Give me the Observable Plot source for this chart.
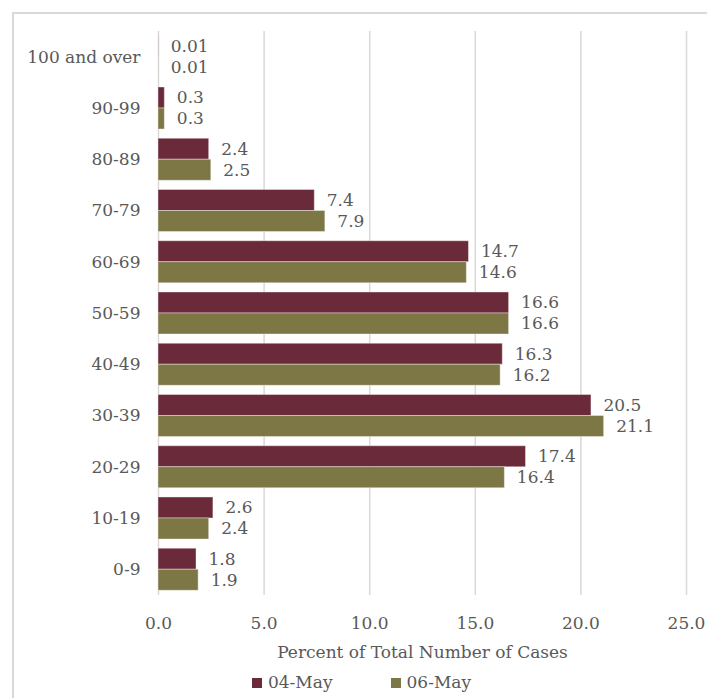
<!DOCTYPE html>
<html><head><meta charset="utf-8">
<script src="https://cdn.jsdelivr.net/npm/d3@7"></script>
<script src="https://cdn.jsdelivr.net/npm/@observablehq/plot@0.6"></script>
<style>
body{margin:0;background:#fff;font-family:"DejaVu Serif",serif;}
#wrap{position:relative;width:707px;height:698px;overflow:hidden;}
#frame{position:absolute;left:12px;top:12px;width:720px;height:720px;border:2px solid #d9d9d9;box-sizing:border-box;}
#chart{position:absolute;left:0;top:0;}
#legend{position:absolute;top:672px;left:8px;width:707px;display:flex;justify-content:center;gap:58px;font-size:17px;color:#595959;}
#legend span.sw{display:inline-block;width:10px;height:10px;margin-right:6px;vertical-align:0px;}
</style></head>
<body>
<div id="wrap"><div id="frame"></div><div id="chart"></div><div id="legend"></div></div>
<script>
const ages = ["0-9","10-19","20-29","30-39","40-49","50-59","60-69","70-79","80-89","90-99","100 and over"];
const may04 = [1.8,2.6,17.4,20.5,16.3,16.6,14.7,7.4,2.4,0.3,0.01];
const may06 = [1.9,2.4,16.4,21.1,16.2,16.6,14.6,7.9,2.5,0.3,0.01];
const seriesNames = ["04-May","06-May"];
const colors = ["#6b2a3a","#7d7645"];
const xTicks = [0,5,10,15,20,25];

const rows = [];
ages.forEach((a,i)=>{
  rows.push({age:a, series:seriesNames[0], v:may04[i]});
  rows.push({age:a, series:seriesNames[1], v:may06[i]});
});
const fmt = v => v < 0.1 ? v.toFixed(2) : v.toFixed(1);
const half = 21;
const txt = "#595959";

const chart = Plot.plot({
  width:707, height:665,
  marginLeft:158, marginRight:21, marginTop:31, marginBottom:70,
  style:{fontFamily:"DejaVu Serif, serif", fontSize:"17px", color:txt, background:"transparent"},
  x:{domain:[0,25]},
  y:{domain:ages.slice().reverse(), paddingInner:0.18, paddingOuter:0.0925, round:false},
  color:{domain:seriesNames, range:colors},
  marks:[
    Plot.gridX(xTicks,{stroke:"#d9d9d9", strokeOpacity:1, strokeWidth:1.5}),
    Plot.axisX(xTicks,{tickSize:0, tickPadding:21, tickFormat:d=>d.toFixed(1), label:"Percent of Total Number of Cases", labelAnchor:"center", labelArrow:"none", labelOffset:62, fill:txt}),
    Plot.axisY({tickSize:0, tickPadding:18, label:null, fill:txt}),
    Plot.barX(rows.filter(d=>d.series===seriesNames[0]),{x:"v", y:"age", fill:"series", insetBottom:half, stroke:"#fff", strokeOpacity:0.4, strokeWidth:1}),
    Plot.barX(rows.filter(d=>d.series===seriesNames[1]),{x:"v", y:"age", fill:"series", insetTop:half, stroke:"#fff", strokeOpacity:0.4, strokeWidth:1}),
    Plot.text(rows.filter(d=>d.series===seriesNames[0]),{x:"v", y:"age", text:d=>fmt(d.v), dy:-10.5, dx:12, textAnchor:"start", fill:txt}),
    Plot.text(rows.filter(d=>d.series===seriesNames[1]),{x:"v", y:"age", text:d=>fmt(d.v), dy:10.5, dx:12, textAnchor:"start", fill:txt})
  ]
});
document.getElementById("chart").appendChild(chart);
const lg = document.getElementById("legend");
seriesNames.forEach((s,i)=>{
  const d = document.createElement("div");
  d.innerHTML = `<span class="sw" style="background:${colors[i]}"></span>${s}`;
  lg.appendChild(d);
});
</script>
</body></html>
